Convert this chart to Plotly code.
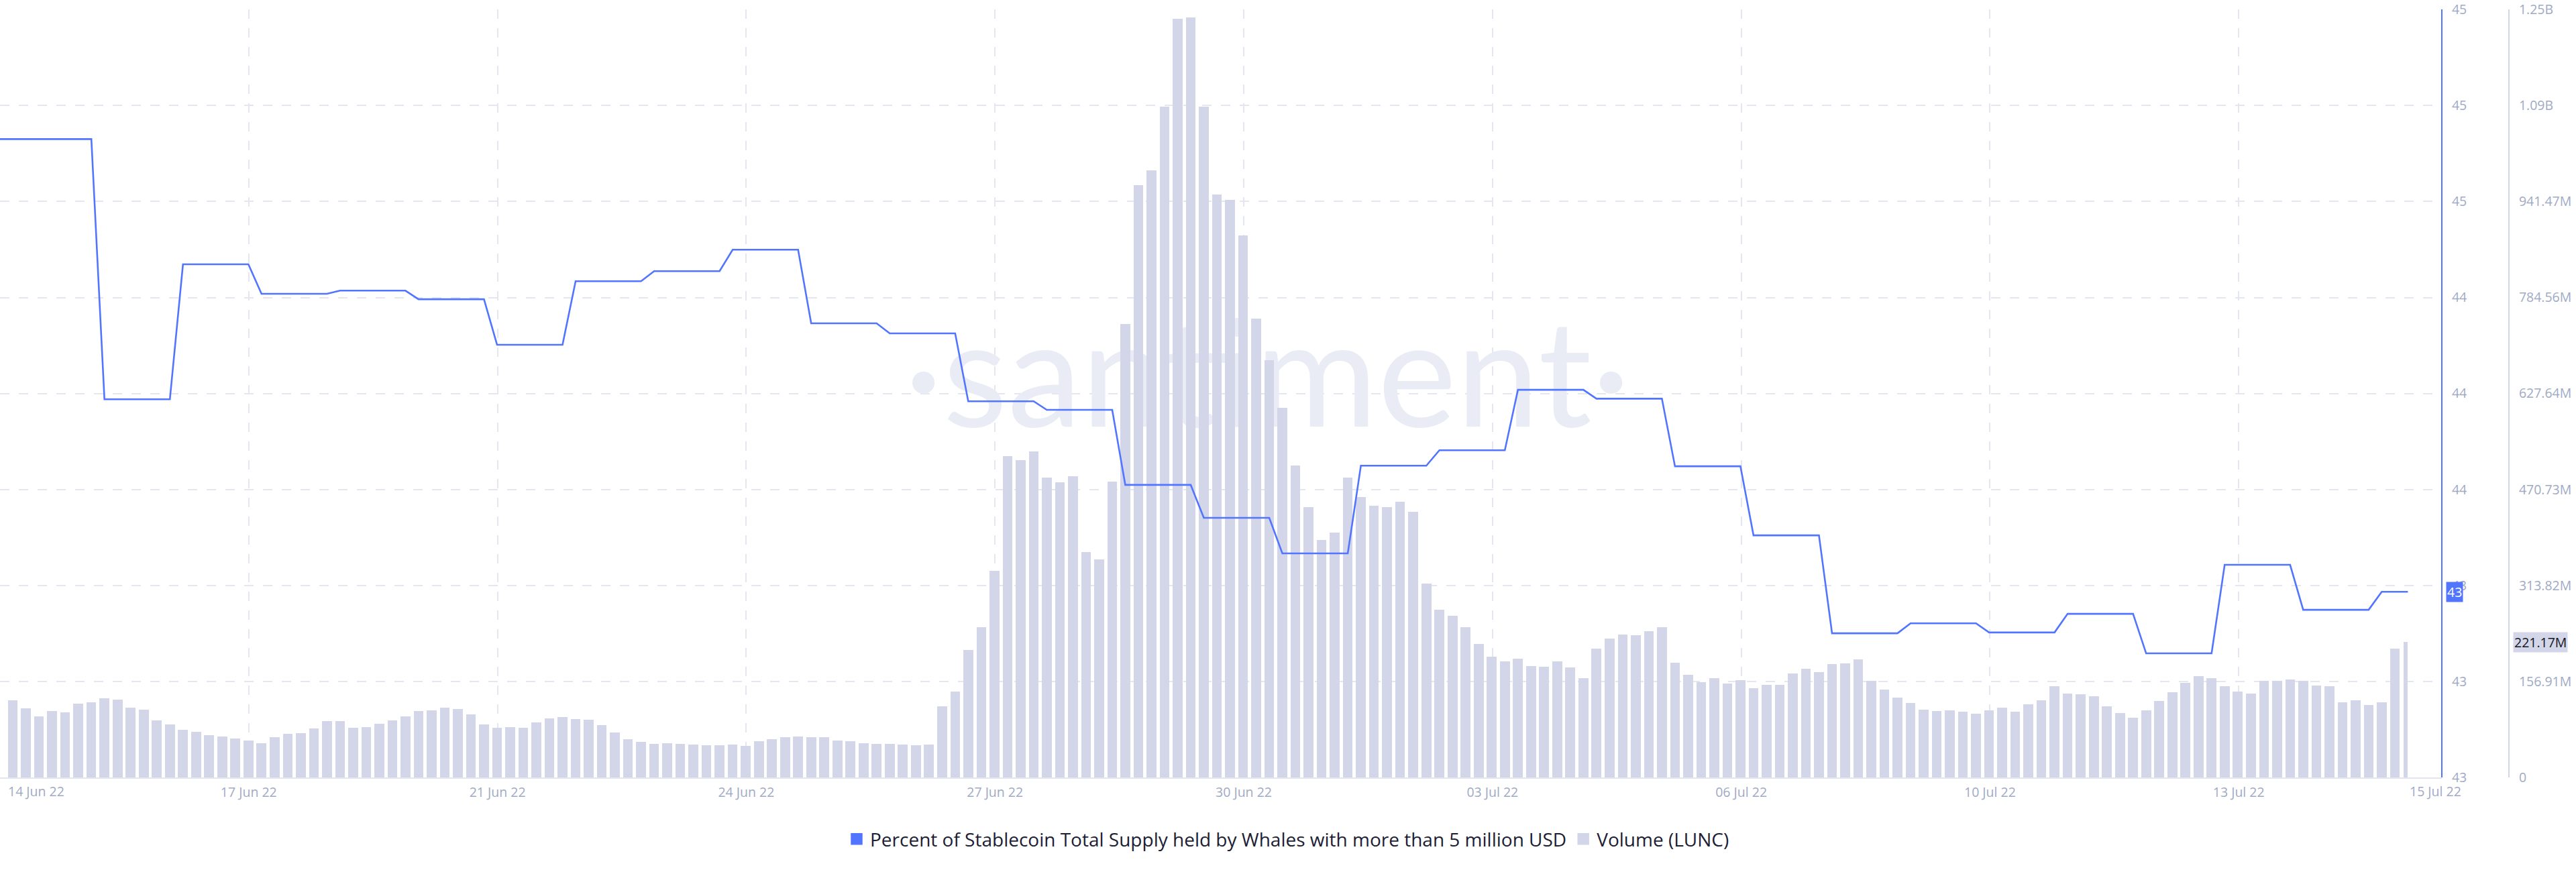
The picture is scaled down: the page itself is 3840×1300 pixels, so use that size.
import pandas as pd
import plotly.graph_objects as go

# ---------------- data ----------------
# LUNC volume per 4h bar, in millions (first bar 14 Jun 22 20:00)
volume_m = [
    126.1, 113.2, 100.1, 108.2, 106.3, 120.3, 122.5, 129.4, 127.2, 113.7,
    110.4, 92.9, 86.3, 77.8, 74.5, 69.1, 66.9, 63.3, 60.6, 55.9,
    66.1, 71.3, 72.0, 80.4, 92.1, 91.8, 81.5, 81.9, 88.0, 92.9,
    99.4, 108.5, 110.0, 114.0, 111.8, 102.7, 86.9, 81.1, 82.2, 81.1,
    89.9, 96.1, 98.7, 95.4, 94.0, 85.5, 73.5, 62.8, 57.8, 55.1,
    55.6, 54.8, 53.4, 52.6, 53.0, 53.7, 51.9, 59.2, 62.2, 65.8,
    66.5, 65.4, 65.4, 60.0, 59.2, 55.9, 54.8, 54.8, 54.0, 52.3,
    53.7, 116.5, 140.0, 208.6, 245.9, 337.7, 525.4, 518.8, 532.7, 490.3,
    482.0, 492.7, 368.6, 356.3, 483.7, 740.9, 968.6, 992.3, 1096.8, 1240.4,
    1242.9, 1096.8, 953.0, 944.1, 886.1, 750.6, 682.0, 604.5, 509.8, 442.0,
    388.2, 400.5, 490.3, 458.4, 444.6, 442.0, 451.0, 433.9, 317.2, 273.9,
    264.1, 246.1, 218.7, 197.9, 190.0, 193.7, 182.0, 180.6, 190.0, 179.5,
    162.3, 210.8, 226.9, 233.8, 232.4, 239.3, 245.9, 187.5, 167.4, 156.0,
    162.6, 153.8, 159.3, 145.8, 151.0, 151.3, 170.3, 177.9, 172.5, 185.3,
    186.7, 193.0, 157.5, 143.9, 130.5, 122.0, 110.7, 108.9, 109.6, 107.4,
    104.1, 109.6, 114.0, 107.8, 119.5, 126.4, 148.8, 137.4, 135.9, 133.0,
    116.5, 105.6, 97.9, 109.6, 125.0, 138.9, 154.2, 165.2, 161.9, 148.8,
    140.3, 136.7, 157.9, 157.5, 160.1, 157.9, 150.5, 148.8, 122.5, 125.7,
    118.7, 122.8, 210.5, 221.17,
]

# Percent of stablecoin supply held by whales: level and number of 4h points it holds
# (first point 14 Jun 22 16:00)
pct_levels = [44.748, 43.840, 44.311, 44.208, 44.219, 44.189, 44.030, 44.252,
              44.287, 44.362, 44.105, 44.070, 43.833, 43.803, 43.541, 43.426,
              43.302, 43.608, 43.662, 43.873, 43.842, 43.606, 43.365, 43.023,
              43.058, 43.026, 43.091, 42.953, 43.262, 43.105, 43.168]
pct_runs = [8, 6, 6, 6, 6, 6, 6, 6, 6, 6, 6, 6, 6, 6, 6, 6,
            6, 6, 6, 6, 6, 6, 6, 6, 6, 6, 6, 6, 6, 6, 3]

x_tick_labels = ["", "17 Jun 22", "21 Jun 22", "24 Jun 22", "27 Jun 22",
                 "30 Jun 22", "03 Jul 22", "06 Jul 22", "10 Jul 22", "13 Jul 22"]
x_edge_labels = ["14 Jun 22", "15 Jul 22"]
vol_tick_values = [0, 156.91, 313.82, 470.73, 627.64, 784.56, 941.47, 1098.38, 1255.28]
vol_tick_labels = ["0", "156.91M", "313.82M", "470.73M", "627.64M", "784.56M",
                   "941.47M", "1.09B", "1.25B"]
pct_tick_values = [42.52, 42.855, 43.19, 43.525, 43.86, 44.195, 44.53, 44.865, 45.2]
pct_tick_labels = ["43", "43", "43", "44", "44", "44", "45", "45", "45"]

series_names = ["Percent of Stablecoin Total Supply held by Whales with more than 5 million USD",
                "Volume (LUNC)"]

# ---------------- styling ----------------
W, H = 3840, 1300
PLOT_R = 3640
BLUE = "#5275ff"
BAR = "#d3d6e8"
GRID = "#e4e7f1"
TICK = "#9faac4"
FONT = "Open Sans"

bar_times = pd.date_range("2022-06-14 20:00", periods=len(volume_m), freq="4h")
pct_values = []
for lvl, n in zip(pct_levels, pct_runs):
    pct_values += [lvl] * n
line_times = pd.date_range("2022-06-14 16:00", periods=len(pct_values), freq="4h")

hour = pd.Timedelta(hours=1)
x0 = bar_times[0] - 3.92 * hour
x1 = bar_times[-1] + 10.37 * hour
px_per_hour = PLOT_R / ((x1 - x0) / hour)
tick_step = 370.8 / px_per_hour * hour
tick_vals = [(x0 + k * tick_step).strftime("%Y-%m-%d %H:%M:%S") for k in range(len(x_tick_labels))]
edge_vals = [x0 + (54 / px_per_hour) * hour, x0 + (3630 / px_per_hour) * hour]

# bar widths (last bar is the partial period, drawn narrow)
bw = 3.0 * 3600 * 1000
widths = [bw] * len(volume_m)
offsets = [-bw / 2] * len(volume_m)
widths[-1] = 1.3 * 3600 * 1000
offsets[-1] = -1.31 * 3600 * 1000

fig = go.Figure()

# watermark on base subplot (beneath bars)
fig.add_trace(go.Scatter(
    x=[(x0 + (x1 - x0) * 0.519).strftime("%Y-%m-%d %H:%M:%S")], y=[0.505],
    mode="text", text=["·santiment·"],
    textfont=dict(family="Lato", size=222, color="#e9ecf5"),
    textposition="middle center", showlegend=False, hoverinfo="skip",
    xaxis="x", yaxis="y"))

fig.add_trace(go.Bar(
    x=bar_times, y=volume_m, width=widths, offset=offsets,
    marker=dict(color=BAR, line=dict(width=0)),
    showlegend=False, xaxis="x", yaxis="y2", name=series_names[1]))

fig.add_trace(go.Scatter(
    x=line_times, y=pct_values, mode="lines",
    line=dict(color=BLUE, width=2.6),
    showlegend=False, xaxis="x", yaxis="y3", name=series_names[0]))

# legend entries (square swatches)
for name, col in zip(series_names, [BLUE, BAR]):
    fig.add_trace(go.Scatter(
        x=[None], y=[None], mode="markers", name=name,
        marker=dict(symbol="square", size=16, color=col, line=dict(color=col, width=1.5)),
        xaxis="x", yaxis="y3"))

annotations = []
for txt, t in zip(x_edge_labels, edge_vals):
    annotations.append(dict(
        x=t.strftime("%Y-%m-%d %H:%M:%S"), xref="x", y=0, yref="paper",
        yanchor="top", yshift=-5, showarrow=False, text=txt,
        font=dict(family=FONT, size=19.5, color=TICK)))
annotations.append(dict(
    x=3646 / W, xref="paper", xanchor="left", y=pct_values[-1], yref="y3", yanchor="middle",
    text=f"{pct_values[-1]:.0f}", showarrow=False, bgcolor=BLUE, borderpad=1,
    font=dict(family=FONT, size=19.5, color="white")))
annotations.append(dict(
    x=3746 / W, xref="paper", xanchor="left", y=volume_m[-1], yref="y2", yanchor="middle",
    text=f"{volume_m[-1]:.2f}M", showarrow=False, bgcolor=BAR, borderpad=1,
    font=dict(family=FONT, size=19.5, color="#15171f")))

fig.update_layout(
    width=W, height=H,
    margin=dict(l=0, r=0, t=14, b=141),
    paper_bgcolor="white", plot_bgcolor="white",
    bargap=0, barmode="overlay",
    font=dict(family=FONT, color=TICK),
    xaxis=dict(
        domain=[0, PLOT_R / W], anchor="y", type="date",
        range=[x0.strftime("%Y-%m-%d %H:%M:%S"), x1.strftime("%Y-%m-%d %H:%M:%S")],
        tickmode="array", tickvals=tick_vals, ticktext=x_tick_labels,
        showgrid=True, gridcolor=GRID, gridwidth=1.5, griddash="14px,14px",
        showline=True, linecolor="#e3e6f0", linewidth=2,
        ticks="", ticklabelstandoff=4,
        tickfont=dict(family=FONT, size=19.5, color=TICK),
        zeroline=False, fixedrange=True),
    yaxis=dict(range=[0, 1], visible=False, domain=[0, 1], anchor="x", fixedrange=True),
    yaxis2=dict(
        overlaying="y", anchor="free", side="right", position=3740 / W,
        range=[0, 1255.6], tickmode="array", tickvals=vol_tick_values, ticktext=vol_tick_labels,
        showgrid=True, gridcolor=GRID, gridwidth=1.5, griddash="14px,14px",
        showline=True, linecolor=BAR, linewidth=2, zeroline=False,
        ticks="", ticklabelstandoff=10,
        tickfont=dict(family=FONT, size=19.5, color=TICK), fixedrange=True),
    yaxis3=dict(
        overlaying="y", anchor="free", side="right", position=PLOT_R / W,
        range=[42.52, 45.2007], tickmode="array", tickvals=pct_tick_values, ticktext=pct_tick_labels,
        showgrid=False, showline=True, linecolor=BLUE, linewidth=2, zeroline=False,
        ticks="", ticklabelstandoff=10,
        tickfont=dict(family=FONT, size=19.5, color=TICK), fixedrange=True),
    legend=dict(
        orientation="h", x=0.5, xanchor="center", y=-0.0803, yanchor="middle",
        font=dict(family=FONT, size=28, color="#1c2034"),
        bgcolor="rgba(0,0,0,0)"),
    annotations=annotations,
    showlegend=True,
)

fig.write_html(
    "out.html",
    config={"displayModeBar": False},
    post_script="document.body.style.margin='0';document.body.style.overflow='hidden';",
)
